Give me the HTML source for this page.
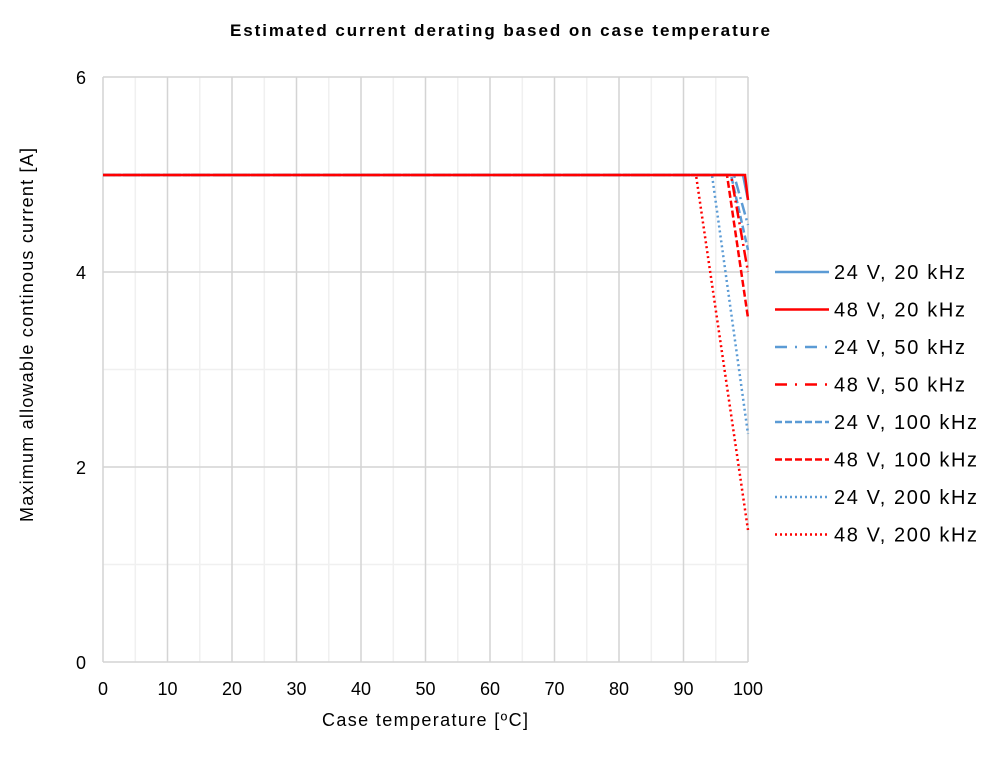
<!DOCTYPE html>
<html><head><meta charset="utf-8"><style>body{margin:0;background:#fff}svg{display:block}</style></head><body>
<svg width="1000" height="768" xmlns="http://www.w3.org/2000/svg" font-family="Liberation Sans, Arial, sans-serif">
<rect width="1000" height="768" fill="#fff"/>
<text x="500" y="36" text-anchor="middle" font-size="17" font-weight="bold" textLength="540" lengthAdjust="spacing">Estimated current derating based on case temperature</text>
<g stroke="#f0f0f0" stroke-width="1.5">
<line x1="135.3" y1="77" x2="135.3" y2="662"/><line x1="199.8" y1="77" x2="199.8" y2="662"/><line x1="264.3" y1="77" x2="264.3" y2="662"/><line x1="328.8" y1="77" x2="328.8" y2="662"/><line x1="393.3" y1="77" x2="393.3" y2="662"/><line x1="457.8" y1="77" x2="457.8" y2="662"/><line x1="522.3" y1="77" x2="522.3" y2="662"/><line x1="586.8" y1="77" x2="586.8" y2="662"/><line x1="651.3" y1="77" x2="651.3" y2="662"/><line x1="715.8" y1="77" x2="715.8" y2="662"/>
<line x1="103" y1="564.5" x2="748" y2="564.5"/><line x1="103" y1="369.5" x2="748" y2="369.5"/><line x1="103" y1="174.5" x2="748" y2="174.5"/>
</g>
<g stroke="#d4d4d4" stroke-width="1.5">
<line x1="103" y1="77" x2="103" y2="662"/><line x1="167.5" y1="77" x2="167.5" y2="662"/><line x1="232" y1="77" x2="232" y2="662"/><line x1="296.5" y1="77" x2="296.5" y2="662"/><line x1="361" y1="77" x2="361" y2="662"/><line x1="425.5" y1="77" x2="425.5" y2="662"/><line x1="490" y1="77" x2="490" y2="662"/><line x1="554.5" y1="77" x2="554.5" y2="662"/><line x1="619" y1="77" x2="619" y2="662"/><line x1="683.5" y1="77" x2="683.5" y2="662"/><line x1="748" y1="77" x2="748" y2="662"/>
<line x1="103" y1="77" x2="748" y2="77"/><line x1="103" y1="272" x2="748" y2="272"/><line x1="103" y1="467" x2="748" y2="467"/><line x1="103" y1="662" x2="748" y2="662"/>
</g>
<g fill="none" stroke-width="2.5">
<polyline stroke="#FF0000" stroke-dasharray="2,3" points="103,175 696,175 748,530"/>
<polyline stroke="#5B9BD5" stroke-dasharray="2,3" points="103,175 712,175 748,434"/>
<polyline stroke="#5B9BD5" stroke-dasharray="7,3" points="103,175 731,175 748,250"/>
<polyline stroke="#FF0000" stroke-dasharray="7,3" points="103,175 727,175 748,318"/>
<polyline stroke="#5B9BD5" stroke-dasharray="12,4,2,4" points="103,175 734,175 748,225"/>
<polyline stroke="#FF0000" stroke-dasharray="12,4,2,4" points="103,175 731,175 748,272"/>
<polyline stroke="#5B9BD5" points="103,175 743,175 748,200"/>
<polyline stroke="#FF0000" points="103,175 745,175 748,200"/>
</g>
<g font-size="18" text-anchor="end">
<text x="86" y="84">6</text><text x="86" y="279">4</text><text x="86" y="474">2</text><text x="86" y="669">0</text>
</g>
<g font-size="18" text-anchor="middle">
<text x="103" y="695">0</text><text x="167.5" y="695">10</text><text x="232" y="695">20</text><text x="296.5" y="695">30</text><text x="361" y="695">40</text><text x="425.5" y="695">50</text><text x="490" y="695">60</text><text x="554.5" y="695">70</text><text x="619" y="695">80</text><text x="683.5" y="695">90</text><text x="748" y="695">100</text>
</g>
<text x="425" y="726" font-size="18" text-anchor="middle" textLength="206" lengthAdjust="spacing">Case temperature  [ºC]</text>
<text transform="translate(33,335) rotate(-90)" font-size="18" text-anchor="middle" textLength="374" lengthAdjust="spacing">Maximum allowable continous current [A]</text>
<g stroke-width="2.5" fill="none">
<line x1="775" y1="272" x2="829" y2="272" stroke="#5B9BD5"/>
<line x1="775" y1="309.5" x2="829" y2="309.5" stroke="#FF0000"/>
<line x1="775" y1="347" x2="829" y2="347" stroke="#5B9BD5" stroke-dasharray="12,8,2,8"/>
<line x1="775" y1="384.5" x2="829" y2="384.5" stroke="#FF0000" stroke-dasharray="12,8,2,8"/>
<line x1="775" y1="422" x2="829" y2="422" stroke="#5B9BD5" stroke-dasharray="7,3"/>
<line x1="775" y1="459.5" x2="829" y2="459.5" stroke="#FF0000" stroke-dasharray="7,3"/>
<line x1="775" y1="497" x2="827" y2="497" stroke="#5B9BD5" stroke-dasharray="2,3"/>
<line x1="775" y1="534.5" x2="827" y2="534.5" stroke="#FF0000" stroke-dasharray="2,3"/>
</g>
<g font-size="20">
<text x="834" y="279" textLength="131" lengthAdjust="spacing">24 V, 20 kHz</text><text x="834" y="316.5" textLength="131" lengthAdjust="spacing">48 V, 20 kHz</text><text x="834" y="354" textLength="131" lengthAdjust="spacing">24 V, 50 kHz</text><text x="834" y="391.5" textLength="131" lengthAdjust="spacing">48 V, 50 kHz</text><text x="834" y="429" textLength="143" lengthAdjust="spacing">24 V, 100 kHz</text><text x="834" y="466.5" textLength="143" lengthAdjust="spacing">48 V, 100 kHz</text><text x="834" y="504" textLength="143" lengthAdjust="spacing">24 V, 200 kHz</text><text x="834" y="541.5" textLength="143" lengthAdjust="spacing">48 V, 200 kHz</text>
</g>
</svg>
</body></html>
